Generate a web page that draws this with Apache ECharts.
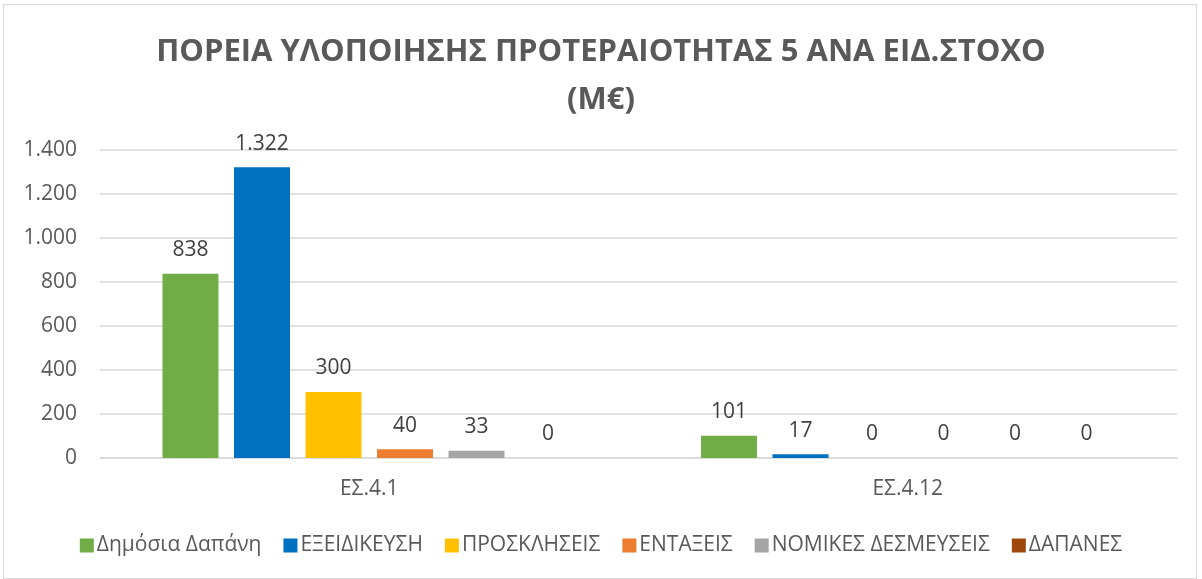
<!DOCTYPE html>
<html>
<head>
<meta charset="utf-8">
<script src="https://cdn.jsdelivr.net/npm/echarts@6/dist/echarts.min.js"></script>
<style>
  html, body { margin: 0; padding: 0; background: #fff; }
  #frame { position: absolute; left: 3px; top: 4px; width: 1194px; height: 575px; border: 1px solid #d9d9d9; box-sizing: border-box; }
  #main { position: absolute; left: 0; top: 0; width: 1202px; height: 579px; }
</style>
</head>
<body>
<div id="frame"></div>
<div id="main"></div>
<script>
// κατηγορίες (ειδικοί στόχοι)
var categories = ['ΕΣ.4.1', 'ΕΣ.4.12'];
var seriesNames = ['Δημόσια Δαπάνη', 'ΕΞΕΙΔΙΚΕΥΣΗ', 'ΠΡΟΣΚΛΗΣΕΙΣ', 'ΕΝΤΑΞΕΙΣ', 'ΝΟΜΙΚΕΣ ΔΕΣΜΕΥΣΕΙΣ', 'ΔΑΠΑΝΕΣ'];
var dimosiaDapani = [838, 101];
var exeidikeusi = [1322, 17];
var prosklhseis = [300, 0];
var entakseis = [40, 0];
var nomikesDesmeuseis = [33, 0];
var dapanes = [0, 0];
var colors = ['#70AD47', '#0070C0', '#FFC000', '#ED7D31', '#A5A5A5', '#9E480E'];

// 1322 -> 1.322
function fmt(v) {
  return String(v).replace(/\B(?=(\d{3})+(?!\d))/g, '.');
}

var allData = [dimosiaDapani, exeidikeusi, prosklhseis, entakseis, nomikesDesmeuseis, dapanes];
var series = [];
for (var i = 0; i < seriesNames.length; i++) {
  series.push({
    name: seriesNames[i],
    type: 'bar',
    data: allData[i],
    barWidth: 56,
    barGap: '27.7%',
    itemStyle: { color: colors[i] },
    label: {
      show: true,
      position: 'top',
      distance: 13,
      color: '#404040',
      fontSize: 21,
      fontFamily: 'Open Sans',
      formatter: function (p) { return fmt(p.value); }
    }
  });
}

var chart = echarts.init(document.getElementById('main'));
chart.setOption({
  animation: false,
  textStyle: { fontFamily: 'Open Sans' },
  title: {
    text: 'ΠΟΡΕΙΑ ΥΛΟΠΟΙΗΣΗΣ ΠΡΟΤΕΡΑΙΟΤΗΤΑΣ 5 ΑΝΑ ΕΙΔ.ΣΤΟΧΟ\n(Μ€)',
    left: 'center',
    top: 23,
    textStyle: {
      color: '#595959',
      fontSize: 31,
      fontWeight: 'bold',
      lineHeight: 48,
      fontFamily: 'Open Sans'
    }
  },
  legend: {
    top: 530,
    left: 'center',
    itemWidth: 14,
    itemHeight: 14,
    itemGap: 22,
    icon: 'rect',
    textStyle: { color: '#595959', fontSize: 21, fontFamily: 'Open Sans', padding: [0, 0, 0, -2] },
    data: seriesNames
  },
  grid: { left: 100, right: 25, top: 150, bottom: 121, containLabel: false },
  xAxis: {
    type: 'category',
    data: categories,
    axisLine: { lineStyle: { color: '#d9d9d9', width: 1.5 } },
    axisTick: { show: false },
    axisLabel: { color: '#595959', fontSize: 21, margin: 21, fontFamily: 'Open Sans' }
  },
  yAxis: {
    type: 'value',
    min: 0,
    max: 1400,
    interval: 200,
    axisLine: { show: false },
    axisTick: { show: false },
    splitLine: { lineStyle: { color: '#d9d9d9', width: 1.5 } },
    axisLabel: {
      color: '#595959',
      fontSize: 21,
      margin: 23,
      fontFamily: 'Open Sans',
      formatter: fmt
    }
  },
  series: series
});
</script>
</body>
</html>
